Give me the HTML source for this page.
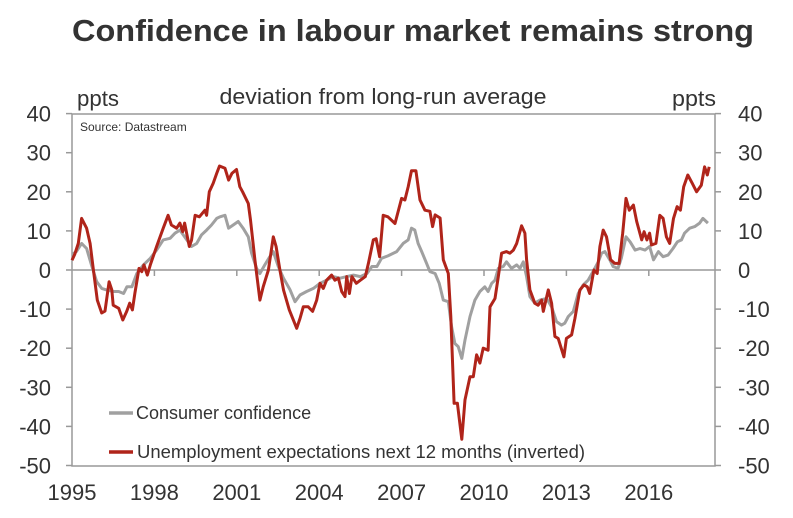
<!DOCTYPE html>
<html><head><meta charset="utf-8"><style>
html,body{margin:0;padding:0;background:#fff;}
svg{display:block;font-family:"Liberation Sans",Arial,sans-serif;}
</style></head><body>
<svg id="chart" width="793" height="518" viewBox="0 0 793 518">
<text x="413" y="41" text-anchor="middle" font-size="31" font-weight="bold" fill="#333" textLength="682" lengthAdjust="spacingAndGlyphs">Confidence in labour market remains strong</text>
<text x="383" y="104" text-anchor="middle" font-size="22" fill="#333" textLength="327" lengthAdjust="spacingAndGlyphs">deviation from long-run average</text>
<text x="77" y="106" font-size="22" fill="#333" textLength="42" lengthAdjust="spacingAndGlyphs">ppts</text>
<text x="672" y="106" font-size="22" fill="#333" textLength="44" lengthAdjust="spacingAndGlyphs">ppts</text>
<rect x="72" y="114" width="643" height="352" fill="none" stroke="#999" stroke-width="1.5"/>
<text x="80" y="131" font-size="12" fill="#333">Source: Datastream</text>
<g id="axes"></g>
<g id="series"></g>
<line x1="109" y1="413" x2="133" y2="413" stroke="#a0a0a0" stroke-width="3.5"/>
<text x="136" y="419" font-size="18" fill="#333">Consumer confidence</text>
<line x1="109" y1="452" x2="133" y2="452" stroke="#b0241a" stroke-width="3.5"/>
<text x="137" y="458" font-size="18" fill="#333" textLength="448" lengthAdjust="spacingAndGlyphs">Unemployment expectations next 12 months (inverted)</text>
</svg>
<script>
const yTicks = [40,30,20,10,0,-10,-20,-30,-40,-50];
const xTickYears = [1995,1998,2001,2004,2007,2010,2013,2016];
const consumerYears = [1995.0,1995.16,1995.35,1995.53,1995.72,1995.9,1996.08,1996.26,1996.5,1996.7,1996.88,1997.0,1997.18,1997.36,1997.6,1997.85,1998.08,1998.32,1998.57,1998.75,1998.93,1999.1,1999.35,1999.54,1999.72,1999.9,2000.08,2000.27,2000.39,2000.57,2000.7,2000.87,2001.05,2001.23,2001.42,2001.54,2001.72,2001.84,2002.02,2002.2,2002.33,2002.51,2002.7,2002.94,2003.12,2003.3,2003.54,2003.79,2004.03,2004.27,2004.51,2004.76,2005.0,2005.25,2005.5,2005.74,2005.92,2006.1,2006.27,2006.5,2006.82,2007.06,2007.24,2007.36,2007.48,2007.6,2007.73,2007.91,2008.03,2008.22,2008.37,2008.52,2008.7,2008.82,2008.94,2009.06,2009.19,2009.31,2009.49,2009.67,2009.85,2010.03,2010.15,2010.28,2010.4,2010.52,2010.7,2010.82,2011.0,2011.19,2011.31,2011.43,2011.55,2011.67,2011.85,2012.03,2012.28,2012.46,2012.64,2012.82,2012.94,2013.07,2013.25,2013.43,2013.61,2013.79,2013.97,2014.16,2014.28,2014.4,2014.58,2014.7,2014.88,2015.0,2015.17,2015.32,2015.5,2015.68,2015.86,2016.03,2016.17,2016.35,2016.52,2016.7,2016.88,2017.04,2017.19,2017.3,2017.49,2017.67,2017.85,2017.97,2018.15];
const consumerValues = [4,4.7,6.8,5.5,1,-3,-4.7,-5.1,-5.5,-5.5,-6,-4.3,-4.3,-0.9,1.3,3,5.1,7.7,8.1,9.4,10.2,8.5,6,6.8,9,10.2,11.5,13.2,13.6,14,10.7,11.5,12.4,10.7,8.5,4.3,0.4,-0.9,1.3,3.4,4.7,0.9,-2.1,-5.1,-8.1,-6.4,-5.5,-4.7,-3.4,-2.6,-1.7,-2.1,-1.7,-1.3,-1.7,-0.9,0.9,0.9,3,3.6,4.7,6.8,7.7,10.7,10.2,6.8,4.7,1.7,-0.4,-0.9,-3.4,-7.7,-8.1,-14.5,-18.8,-19.6,-22.6,-17.9,-11.9,-7.7,-5.5,-4.3,-5.5,-3.4,-2.6,0.4,0.9,2.1,0.4,1.3,0.4,2.1,-1.7,-6.8,-8.5,-7.7,-7.3,-9.4,-13.2,-14.1,-13.6,-11.9,-10.6,-6,-3.8,-2.6,-0.4,2.1,4.3,4.7,2.6,0.9,0.4,3,8.5,7.2,5.1,5.5,5.1,6,2.6,4.7,3.4,3.8,5.5,7.2,7.7,9.4,10.7,11.1,12,13.2,12];
const unempYears = [1995.0,1995.1,1995.23,1995.35,1995.53,1995.66,1995.78,1995.92,1996.08,1996.2,1996.35,1996.45,1996.5,1996.7,1996.85,1996.99,1997.1,1997.2,1997.29,1997.44,1997.54,1997.62,1997.74,1997.85,1998.08,1998.32,1998.5,1998.62,1998.81,1998.93,1999.03,1999.1,1999.27,1999.35,1999.48,1999.64,1999.84,1999.9,2000.0,2000.14,2000.27,2000.37,2000.57,2000.7,2000.82,2000.99,2001.11,2001.21,2001.42,2001.5,2001.66,2001.84,2001.96,2002.15,2002.33,2002.43,2002.57,2002.7,2002.91,2003.18,2003.3,2003.42,2003.6,2003.76,2003.91,2004.03,2004.15,2004.27,2004.45,2004.57,2004.7,2004.82,2004.94,2005.0,2005.1,2005.19,2005.35,2005.5,2005.68,2005.79,2005.97,2006.07,2006.2,2006.33,2006.5,2006.76,2007.0,2007.12,2007.24,2007.36,2007.52,2007.67,2007.85,2008.03,2008.13,2008.22,2008.4,2008.52,2008.7,2008.79,2008.91,2009.03,2009.19,2009.31,2009.49,2009.61,2009.73,2009.85,2009.97,2010.15,2010.22,2010.4,2010.52,2010.64,2010.82,2010.94,2011.07,2011.19,2011.37,2011.49,2011.55,2011.67,2011.85,2011.97,2012.1,2012.16,2012.34,2012.46,2012.58,2012.7,2012.91,2013.0,2013.19,2013.31,2013.49,2013.64,2013.76,2013.85,2014.0,2014.12,2014.22,2014.34,2014.46,2014.61,2014.76,2014.92,2015.05,2015.17,2015.29,2015.44,2015.56,2015.74,2015.83,2015.93,2016.03,2016.1,2016.26,2016.4,2016.52,2016.64,2016.76,2016.9,2017.03,2017.15,2017.27,2017.42,2017.58,2017.74,2017.91,2018.03,2018.13,2018.2];
const unempValues = [2.5,4,6.8,13.2,10.7,6.8,0,-7.7,-11,-10.5,-3,-5.1,-9,-9.8,-12.8,-10.6,-8.5,-10.2,-5.9,0.4,-0.4,1.3,-1.3,1.3,6,10.7,14,11.5,10.7,12,9.8,12,6,7.6,14,13.6,15.3,14,20,22.2,24.7,26.6,26,23,24.7,25.7,21.3,20,17,12.8,2.6,-7.7,-4.3,0,8.5,6,0,-5.1,-10.2,-14.9,-12.4,-9.4,-9.4,-10.6,-7.7,-3.4,-4.7,-2.6,-1.3,-2.6,-2.1,-5.5,-6.8,-1.7,-6,-1.7,-3.4,-2.6,-1.7,1.7,7.7,8,3.4,14,13.6,11.9,18.3,17.9,21.3,25.4,25.4,17.9,15.3,15,11.1,14.1,13.3,2.6,-0.9,-11.9,-34.1,-34.1,-43.3,-33.2,-27.3,-27.3,-21.7,-23.8,-20,-20.5,-9.4,-7.3,-1.7,4.3,4.7,4.3,5.1,6.8,11.3,9.4,2.6,-5.1,-8.5,-9,-7.7,-10.6,-5.1,-8.5,-17,-17.5,-22.2,-17.5,-16.6,-12.4,-5.1,-3.8,-4.3,-6,0,-0.9,6,10.2,8.5,2.6,1.7,1.7,9.4,18.3,15.3,16.6,12.4,7.7,9.8,7.7,9.4,6.4,6.8,14,13.2,8.5,6.8,13.2,16.2,15.3,21.3,24.3,22.2,20,21.7,26.4,24.3,26.4];

const X0=72, PXY=82.4/3, Y0=270, PXV=3.91;
function xs(yr){return X0+(yr-1995)*PXY;}
function ys(v){return Y0-v*PXV;}
const NS='http://www.w3.org/2000/svg';
const axes=document.getElementById('axes'), ser=document.getElementById('series');
function mk(tag,attrs,parent){const e=document.createElementNS(NS,tag);for(const k in attrs)e.setAttribute(k,attrs[k]);parent.appendChild(e);return e;}

let zl=mk('line',{x1:72,x2:715,y1:ys(0),y2:ys(0),stroke:'#999','stroke-width':1.5},axes);


yTicks.forEach(v=>{
  let t1=mk('line',{x1:66,x2:72,y1:ys(v),y2:ys(v),stroke:'#999','stroke-width':1.5},axes);
  
  
  let t2=mk('line',{x1:715,x2:721,y1:ys(v),y2:ys(v),stroke:'#999','stroke-width':1.5},axes);
  
  
  let l=mk('text',{x:51,y:ys(v)+8,'text-anchor':'end','font-size':22,fill:'#333'},axes);
  l.textContent=v;
  
  
  let r=mk('text',{x:738,y:ys(v)+8,'font-size':22,fill:'#333'},axes);
  r.textContent=v;
  
  
});
xTickYears.forEach(yr=>{
  if(yr>1995){
    let t=mk('line',{x1:xs(yr),x2:xs(yr),y1:ys(0),y2:ys(0)+6,stroke:'#999','stroke-width':1.5},axes);
    
    
  }
  let l=mk('text',{x:xs(yr),y:500,'text-anchor':'middle','font-size':22,fill:'#333'},axes);
  l.textContent=yr;
  
  
});
function line(xsArr,vals,color){
  return vals.map((v,i)=>(i?'L':'M')+xs(xsArr[i]).toFixed(1)+' '+ys(v).toFixed(1)).join(' ');
}
let g=mk('path',{d:line(consumerYears,consumerValues),fill:'none',stroke:'#a0a0a0','stroke-width':3,'stroke-linejoin':'round'},ser);


let r=mk('path',{d:line(unempYears,unempValues),fill:'none',stroke:'#b0241a','stroke-width':3,'stroke-linejoin':'round'},ser);


</script>
</body></html>
